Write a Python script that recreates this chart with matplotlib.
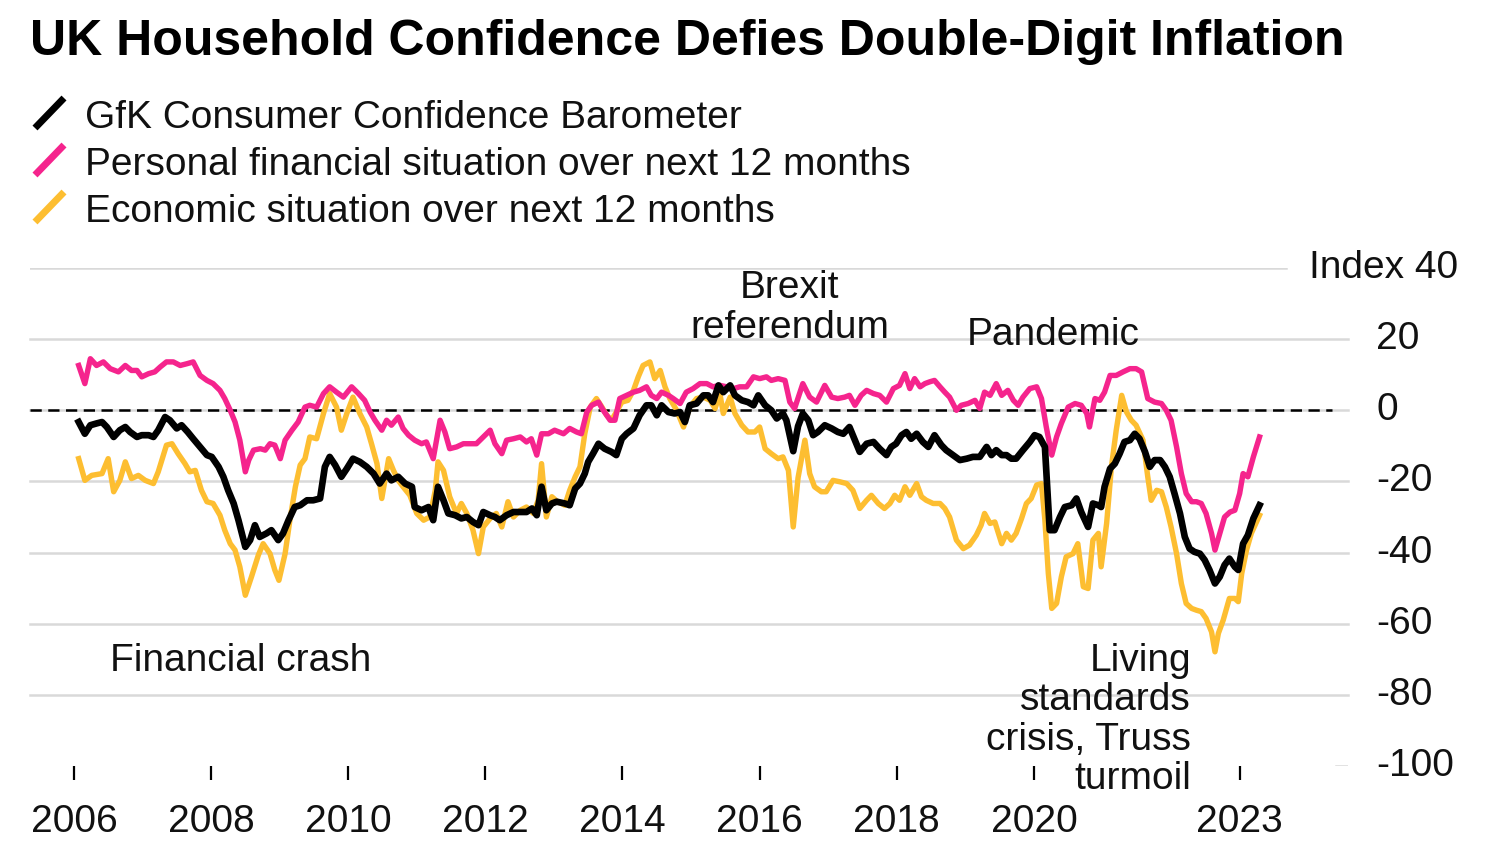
import matplotlib
matplotlib.use("Agg")
import matplotlib.pyplot as plt

plt.rcParams['font.family'] = ['Liberation Sans', 'DejaVu Sans']

# ---------------- data (decimal year, index value) ----------------
gfk_x = [2006.07, 2006.16, 2006.24, 2006.33, 2006.41, 2006.48, 2006.58, 2006.67, 2006.75, 2006.82, 2006.92, 2006.99,
         2007.09, 2007.16, 2007.23, 2007.33, 2007.40, 2007.50, 2007.57, 2007.66, 2007.74, 2007.84, 2007.94, 2008.01,
         2008.11, 2008.18, 2008.25, 2008.33, 2008.40, 2008.50, 2008.57, 2008.64, 2008.71, 2008.81, 2008.88, 2008.98,
         2009.05, 2009.13, 2009.22, 2009.30, 2009.40, 2009.49, 2009.59, 2009.66, 2009.73, 2009.81, 2009.90, 2009.98,
         2010.07, 2010.17, 2010.27, 2010.37, 2010.46, 2010.56, 2010.63, 2010.73, 2010.83, 2010.93, 2010.97, 2011.07,
         2011.17, 2011.24, 2011.31, 2011.39, 2011.46, 2011.56, 2011.65, 2011.73, 2011.82, 2011.90, 2011.97, 2012.07,
         2012.14, 2012.21, 2012.31, 2012.41, 2012.51, 2012.60, 2012.68, 2012.75, 2012.82, 2012.89, 2012.97, 2013.04,
         2013.16, 2013.23, 2013.31, 2013.38, 2013.45, 2013.50, 2013.57, 2013.65, 2013.74, 2013.84, 2013.91, 2013.99,
         2014.06, 2014.16, 2014.25, 2014.35, 2014.42, 2014.50, 2014.57, 2014.67, 2014.76, 2014.84, 2014.91, 2014.98,
         2015.08, 2015.18, 2015.25, 2015.32, 2015.40, 2015.47, 2015.57, 2015.64, 2015.74, 2015.83, 2015.91, 2015.98,
         2016.08, 2016.17, 2016.25, 2016.34, 2016.39, 2016.49, 2016.56, 2016.63, 2016.71, 2016.78, 2016.85, 2016.95,
         2017.05, 2017.14, 2017.22, 2017.31, 2017.39, 2017.46, 2017.56, 2017.66, 2017.75, 2017.85, 2017.92, 2017.99,
         2018.07, 2018.14, 2018.21, 2018.29, 2018.38, 2018.46, 2018.55, 2018.65, 2018.72, 2018.82, 2018.92, 2019.02,
         2019.11, 2019.21, 2019.31, 2019.38, 2019.45, 2019.53, 2019.60, 2019.67, 2019.74, 2019.84, 2019.94, 2020.01,
         2020.08, 2020.16, 2020.23, 2020.30, 2020.38, 2020.45, 2020.55, 2020.62, 2020.69, 2020.79, 2020.86, 2020.94,
         2020.98, 2021.03, 2021.11, 2021.18, 2021.25, 2021.32, 2021.40, 2021.47, 2021.54, 2021.62, 2021.69, 2021.76,
         2021.84, 2021.91, 2021.98, 2022.05, 2022.13, 2022.20, 2022.27, 2022.34, 2022.42, 2022.49, 2022.56, 2022.64,
         2022.71, 2022.78, 2022.85, 2022.93, 2022.98, 2023.05, 2023.12, 2023.20, 2023.29]
gfk_y = [-3.3, -6.6, -4.2, -3.7, -3.3, -4.7, -7.5, -5.6, -4.7, -6.1, -7.5, -7.0,
         -7.0, -7.5, -5.6, -1.9, -2.8, -5.1, -4.2, -6.1, -8.0, -10.3, -12.6, -13.1,
         -15.9, -18.7, -22.5, -26.2, -30.9, -38.4, -36.5, -32.3, -35.6, -34.6, -33.7, -36.5,
         -34.6, -30.9, -27.2, -26.7, -25.3, -25.3, -24.8, -15.9, -13.1, -15.4, -18.7, -16.4,
         -13.6, -14.5, -15.9, -17.8, -20.6, -17.8, -19.7, -18.7, -20.6, -21.5, -27.2, -28.1,
         -27.2, -30.9, -21.5, -25.3, -29.0, -29.5, -30.4, -30.0, -31.4, -32.3, -28.6, -29.5,
         -30.0, -30.9, -29.5, -28.6, -28.6, -28.6, -27.6, -29.5, -21.5, -28.1, -26.2, -25.7,
         -26.2, -26.7, -22.0, -20.6, -17.8, -14.5, -12.2, -9.4, -10.8, -11.7, -12.6, -8.0,
         -6.6, -5.1, -1.4, 1.4, 1.4, -1.4, 1.4, -0.5, -0.9, -0.5, -3.3, 1.4,
         1.9, 4.2, 4.2, 2.3, 7.0, 5.1, 7.0, 4.2, 2.8, 2.3, 1.4, 4.2,
         1.4, 0.0, -2.3, -0.9, -2.8, -11.5, -4.5, -0.9, -2.8, -7.0, -6.1, -4.2,
         -5.1, -6.1, -6.6, -4.7, -8.4, -11.7, -9.4, -8.9, -10.8, -12.6, -10.3, -9.4,
         -7.0, -6.1, -8.0, -6.6, -8.9, -10.3, -7.0, -9.8, -11.2, -12.6, -14.0, -13.6,
         -13.1, -13.1, -10.3, -12.6, -11.2, -12.6, -12.6, -13.6, -13.6, -11.2, -8.9, -7.0,
         -7.5, -10.3, -33.7, -33.7, -30.0, -27.2, -26.7, -24.8, -28.6, -32.8, -26.2, -26.7,
         -27.2, -21.5, -16.4, -15.0, -12.2, -8.9, -8.4, -6.6, -8.0, -11.7, -15.9, -14.0,
         -14.0, -15.9, -18.7, -23.4, -29.0, -35.6, -38.9, -39.8, -40.3, -42.1, -44.9, -48.7,
         -46.8, -43.5, -41.7, -44.0, -44.9, -37.5, -35.1, -30.4, -26.7]

personal_x = [2006.07, 2006.16, 2006.24, 2006.33, 2006.43, 2006.53, 2006.65, 2006.75, 2006.84, 2006.92, 2006.99,
              2007.09, 2007.18, 2007.26, 2007.35, 2007.45, 2007.55, 2007.65, 2007.74, 2007.84, 2007.94, 2008.03,
              2008.13, 2008.20, 2008.28, 2008.35, 2008.42, 2008.50, 2008.55, 2008.62, 2008.72, 2008.79, 2008.86,
              2008.93, 2009.01, 2009.08, 2009.18, 2009.27, 2009.37, 2009.44, 2009.54, 2009.64, 2009.73, 2009.83,
              2009.93, 2010.05, 2010.15, 2010.24, 2010.32, 2010.39, 2010.49, 2010.56, 2010.63, 2010.73, 2010.80,
              2010.88, 2010.97, 2011.07, 2011.14, 2011.24, 2011.34, 2011.41, 2011.48, 2011.58, 2011.68, 2011.78,
              2011.87, 2011.97, 2012.07, 2012.14, 2012.24, 2012.31, 2012.41, 2012.51, 2012.60, 2012.67, 2012.75,
              2012.82, 2012.92, 2013.01, 2013.14, 2013.23, 2013.33, 2013.40, 2013.48, 2013.55, 2013.65, 2013.72,
              2013.82, 2013.89, 2013.96, 2014.06, 2014.16, 2014.25, 2014.35, 2014.42, 2014.50, 2014.57, 2014.67,
              2014.74, 2014.84, 2014.93, 2015.03, 2015.13, 2015.23, 2015.32, 2015.42, 2015.52, 2015.62, 2015.71,
              2015.81, 2015.91, 2016.00, 2016.10, 2016.17, 2016.27, 2016.37, 2016.44, 2016.51, 2016.63, 2016.73,
              2016.83, 2016.95, 2017.05, 2017.14, 2017.24, 2017.31, 2017.39, 2017.48, 2017.56, 2017.66, 2017.75,
              2017.85, 2017.95, 2018.04, 2018.12, 2018.19, 2018.26, 2018.34, 2018.41, 2018.48, 2018.55, 2018.63,
              2018.70, 2018.77, 2018.87, 2018.94, 2019.04, 2019.14, 2019.21, 2019.28, 2019.36, 2019.45, 2019.53,
              2019.62, 2019.70, 2019.77, 2019.84, 2019.94, 2020.04, 2020.11, 2020.18, 2020.26, 2020.33, 2020.40,
              2020.50, 2020.60, 2020.69, 2020.77, 2020.81, 2020.89, 2020.96, 2021.03, 2021.11, 2021.20, 2021.30,
              2021.40, 2021.49, 2021.57, 2021.66, 2021.76, 2021.86, 2021.93, 2022.00, 2022.08, 2022.15, 2022.22,
              2022.30, 2022.37, 2022.44, 2022.51, 2022.59, 2022.64, 2022.71, 2022.78, 2022.86, 2022.93, 2023.00,
              2023.05, 2023.12, 2023.20, 2023.29]
personal_y = [12.6, 7.5, 14.5, 12.6, 13.6, 11.7, 10.8, 12.6, 11.2, 11.2, 9.4,
              10.3, 10.8, 12.2, 13.6, 13.6, 12.6, 13.1, 13.6, 9.8, 8.4, 7.5,
              5.6, 3.3, 0.0, -3.3, -8.4, -17.3, -14.0, -11.2, -10.8, -11.2, -9.4,
              -9.8, -13.6, -8.4, -5.6, -3.3, 0.9, 1.4, 0.9, 4.7, 6.6, 5.1,
              3.7, 6.6, 4.7, 2.8, -0.5, -2.8, -5.6, -2.8, -4.2, -1.9, -5.1,
              -7.0, -8.4, -9.4, -8.9, -13.6, -2.8, -6.1, -10.8, -10.3, -9.4, -9.4,
              -9.4, -7.5, -5.6, -9.4, -12.2, -8.4, -8.0, -7.5, -8.9, -8.0, -12.6,
              -6.6, -6.6, -5.6, -6.6, -5.1, -6.1, -6.6, -0.5, 1.4, 2.3, 0.0,
              -2.8, -2.8, 3.3, 4.2, 5.1, 5.6, 6.6, 4.2, 3.3, 5.1, 4.2,
              3.3, 1.9, 5.1, 6.1, 7.5, 7.5, 6.6, 7.0, 6.6, 6.1, 6.6,
              6.6, 9.4, 8.9, 9.4, 8.4, 8.9, 8.4, 2.3, 0.5, 7.5, 3.7,
              2.3, 7.0, 3.7, 3.3, 3.7, 4.2, 1.4, 4.2, 5.6, 4.7, 4.2,
              2.3, 6.1, 7.0, 10.3, 6.1, 8.9, 6.6, 7.5, 8.0, 8.4, 6.6,
              5.1, 3.7, 0.0, 1.4, 1.9, 2.8, 0.5, 5.1, 4.2, 7.5, 4.2,
              5.6, 2.8, 1.4, 3.7, 6.1, 6.6, 3.3, -4.7, -12.6, -7.5, -3.7,
              0.9, 1.9, 1.4, -0.9, -4.7, 3.3, 2.8, 5.1, 9.8, 9.8, 10.8,
              11.7, 11.7, 10.8, 3.3, 2.3, 1.9, 0.0, -2.8, -10.3, -17.8, -23.4,
              -25.7, -25.7, -26.2, -29.0, -34.6, -39.3, -34.6, -30.0, -28.6, -28.1, -23.4,
              -17.8, -18.7, -13.1, -7.5]

economic_x = [2006.07, 2006.16, 2006.26, 2006.41, 2006.50, 2006.58, 2006.67, 2006.75, 2006.84, 2006.94, 2007.04,
              2007.16, 2007.23, 2007.35, 2007.43, 2007.52, 2007.62, 2007.69, 2007.77, 2007.86, 2007.94, 2008.03,
              2008.13, 2008.20, 2008.28, 2008.35, 2008.42, 2008.50, 2008.59, 2008.69, 2008.76, 2008.86, 2008.93,
              2008.99, 2009.08, 2009.15, 2009.23, 2009.30, 2009.37, 2009.44, 2009.54, 2009.64, 2009.73, 2009.83,
              2009.90, 2009.98, 2010.07, 2010.17, 2010.27, 2010.34, 2010.42, 2010.49, 2010.59, 2010.66, 2010.73,
              2010.80, 2010.90, 2011.00, 2011.10, 2011.19, 2011.27, 2011.31, 2011.39, 2011.48, 2011.58, 2011.65,
              2011.73, 2011.82, 2011.90, 2011.97, 2012.07, 2012.16, 2012.24, 2012.33, 2012.41, 2012.51, 2012.60,
              2012.70, 2012.77, 2012.82, 2012.89, 2012.97, 2013.04, 2013.16, 2013.23, 2013.31, 2013.38, 2013.45,
              2013.53, 2013.62, 2013.70, 2013.77, 2013.84, 2013.91, 2013.99, 2014.08, 2014.16, 2014.23, 2014.30,
              2014.40, 2014.47, 2014.55, 2014.62, 2014.69, 2014.79, 2014.89, 2014.98, 2015.08, 2015.18, 2015.28,
              2015.35, 2015.42, 2015.47, 2015.57, 2015.64, 2015.74, 2015.83, 2015.93, 2016.00, 2016.08, 2016.17,
              2016.27, 2016.34, 2016.42, 2016.49, 2016.56, 2016.66, 2016.73, 2016.80, 2016.90, 2016.97, 2017.07,
              2017.17, 2017.27, 2017.36, 2017.46, 2017.56, 2017.63, 2017.73, 2017.82, 2017.90, 2017.97, 2018.04,
              2018.12, 2018.19, 2018.29, 2018.36, 2018.43, 2018.53, 2018.63, 2018.70, 2018.77, 2018.87, 2018.97,
              2019.06, 2019.16, 2019.23, 2019.28, 2019.36, 2019.43, 2019.53, 2019.60, 2019.67, 2019.74, 2019.82,
              2019.89, 2019.96, 2020.04, 2020.11, 2020.16, 2020.21, 2020.26, 2020.33, 2020.40, 2020.47, 2020.57,
              2020.64, 2020.72, 2020.79, 2020.86, 2020.94, 2020.98, 2021.06, 2021.13, 2021.20, 2021.28, 2021.35,
              2021.42, 2021.49, 2021.59, 2021.66, 2021.71, 2021.79, 2021.86, 2021.93, 2022.00, 2022.08, 2022.15,
              2022.22, 2022.30, 2022.37, 2022.44, 2022.51, 2022.59, 2022.64, 2022.69, 2022.76, 2022.85, 2022.93,
              2022.98, 2023.03, 2023.10, 2023.17, 2023.29]
economic_y = [-13.6, -19.7, -18.3, -17.8, -13.6, -22.9, -19.7, -14.5, -19.2, -18.3, -19.7,
              -20.6, -17.3, -9.8, -9.4, -12.2, -15.0, -17.3, -16.9, -22.5, -25.7, -26.2,
              -29.5, -33.7, -37.5, -39.3, -44.0, -52.0, -46.8, -40.7, -37.5, -40.3, -44.9,
              -47.8, -40.3, -30.9, -21.5, -15.4, -13.6, -7.5, -8.0, -0.9, 4.7, 0.9,
              -5.6, -0.9, 3.7, -0.9, -4.7, -9.4, -15.0, -24.8, -13.6, -16.9, -19.7,
              -21.5, -23.9, -29.0, -30.9, -30.0, -22.5, -14.5, -16.9, -24.3, -29.0, -26.2,
              -29.0, -33.7, -40.3, -32.8, -30.4, -29.0, -32.8, -25.7, -30.0, -28.1, -27.2,
              -29.0, -25.3, -15.0, -30.0, -24.3, -25.5, -26.7, -22.5, -18.7, -15.9, -6.6,
              0.9, 3.3, 0.9, -1.4, -2.8, -0.5, 2.3, 2.8, 5.6, 9.4, 12.6,
              13.6, 8.9, 11.2, 6.6, 3.3, 0.0, -4.7, 0.9, 3.3, 3.7, 2.8,
              0.5, 4.7, -0.9, 3.7, -0.9, -4.2, -6.1, -6.1, -4.7, -10.8, -12.2,
              -13.6, -13.1, -16.9, -32.8, -19.0, -8.4, -17.8, -21.5, -22.9, -22.9, -19.7,
              -20.1, -20.6, -22.5, -27.6, -25.3, -23.9, -26.2, -27.6, -26.2, -23.9, -25.3,
              -21.5, -23.9, -20.6, -24.3, -25.3, -26.2, -26.2, -27.6, -30.0, -36.5, -38.9,
              -37.9, -35.1, -32.3, -29.0, -31.8, -31.4, -37.5, -34.6, -36.5, -34.6, -30.4,
              -26.2, -24.8, -21.0, -20.6, -30.9, -45.9, -55.7, -54.3, -46.8, -41.2, -40.3,
              -37.5, -49.6, -50.1, -36.5, -34.6, -44.0, -31.8, -15.9, -5.6, 4.2, -0.5,
              -2.8, -4.2, -8.4, -18.7, -25.3, -22.5, -22.9, -27.2, -32.8, -40.3, -48.7,
              -54.3, -55.7, -56.2, -56.6, -58.5, -62.3, -67.9, -62.7, -59.0, -52.9, -52.9,
              -53.8, -45.9, -39.3, -34.6, -29.5]

series_labels = ["GfK Consumer Confidence Barometer",
                 "Personal financial situation over next 12 months",
                 "Economic situation over next 12 months"]
x_tick_years = [2006, 2008, 2010, 2012, 2014, 2016, 2018, 2020, 2023]
y_tick_values = [40, 20, 0, -20, -40, -60, -80, -100]

annotations = [
    ("Brexit\nreferendum", 790, 308, 'center'),
    ("Pandemic", 1053, 335, 'center'),
    ("Financial crash", 110, 661, 'left'),
    ("Living\nstandards\ncrisis, Truss\nturmoil", 1191, 720, 'right'),
]

# ---------------- styling ----------------
BLACK = "#000000"
TEXT = "#111111"
PINK = "#f5248d"
YELLOW = "#fdbe31"
GRID = "#d9d9d9"
W, H = 1500, 850
FS = 28

fig = plt.figure(figsize=(15, 8.5), dpi=100)
fig.patch.set_facecolor("white")

def fx(px):
    return px / W

def fy(py):
    return 1 - py / H

ax_left, ax_right, ax_top, ax_bottom = 30, 1348, 268, 766
ax = fig.add_axes([fx(ax_left), fy(ax_bottom), (ax_right - ax_left) / W, (ax_bottom - ax_top) / H])
ax.set_facecolor("none")

x_min, x_max = 2005.36, 2024.58
ax.set_xlim(x_min, x_max)
ax.set_ylim(-100, 40)

for s in ax.spines.values():
    s.set_visible(False)

# gridlines
for v in y_tick_values:
    if v == 40:
        ax.axhline(v, xmin=0, xmax=(1286 - ax_left) / (ax_right - ax_left), color=GRID, lw=1.8, zorder=1)
    elif v == -100:
        ax.axhline(v, xmin=(1336 - ax_left) / (ax_right - ax_left), xmax=1, color=GRID, lw=1.8, zorder=1)
    else:
        ax.axhline(v, color=GRID, lw=1.8, zorder=1, clip_on=False)
ax.axhline(0, xmin=0, xmax=(1332 - ax_left) / (ax_right - ax_left), color=BLACK, lw=1.8,
           ls=(0, (4.5, 2.6)), zorder=2)

lw_main = 4.8
lw_sub = 3.9
ax.plot(economic_x, economic_y, color=YELLOW, lw=lw_sub, solid_joinstyle='round', zorder=3)
ax.plot(personal_x, personal_y, color=PINK, lw=lw_sub, solid_joinstyle='round', zorder=4)
ax.plot(gfk_x, gfk_y, color=BLACK, lw=lw_main, solid_joinstyle='round', zorder=5)

# x ticks
ax.set_xticks(x_tick_years)
ax.set_xticklabels([str(y) for y in x_tick_years])
ax.tick_params(axis='x', direction='out', length=10, width=1.6, color=BLACK, pad=17,
               labelsize=FS, labelcolor=TEXT)
ax.set_yticks([])

# y labels on the right
ytr = ax.get_yaxis_transform()
x_lab = (1376 - ax_left) / (ax_right - ax_left)
for v in y_tick_values:
    if v == 40:
        ax.text((1458 - ax_left) / (ax_right - ax_left), v, "Index 40", transform=ytr,
                ha='right', va='center', fontsize=FS, color=TEXT)
    else:
        ax.text(x_lab, v, str(v), transform=ytr, ha='left', va='center', fontsize=FS, color=TEXT)

# annotations
for txt, px, py, ha in annotations:
    fig.text(fx(px), fy(py), txt, ha=ha, va='center', fontsize=FS, color=TEXT,
             linespacing=1.13, multialignment=ha)

# title
fig.text(fx(30), fy(55), "UK Household Confidence Defies Double-Digit Inflation",
         ha='left', va='baseline', fontsize=36, fontweight='bold', color=BLACK)

# legend
legend_colors = [BLACK, PINK, YELLOW]
legend_base = [128, 175, 222]
for lab, col, base in zip(series_labels, legend_colors, legend_base):
    fig.add_artist(plt.Line2D([fx(35), fx(64)], [fy(base), fy(base - 30)], color=col, lw=5.0,
                              solid_capstyle='butt', transform=fig.transFigure))
    fig.text(fx(85), fy(base), lab, ha='left', va='baseline', fontsize=FS, color=TEXT)

fig.savefig("out.png", dpi=100, facecolor="white")
